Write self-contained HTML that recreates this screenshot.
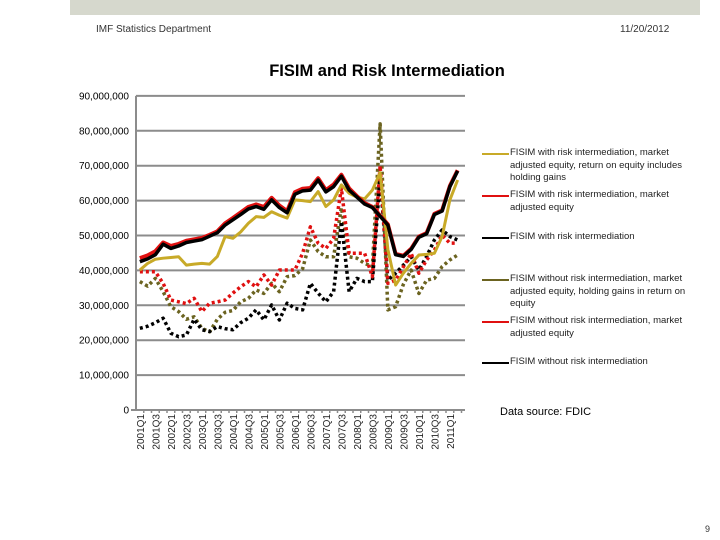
<!DOCTYPE html>
<html><head><meta charset="utf-8"><style>
body{margin:0;width:720px;height:540px;background:#fff;overflow:hidden;position:relative;font-family:"Liberation Sans",sans-serif}
.abs{position:absolute}
.leg{position:absolute;left:510px;font-size:9.5px;line-height:12.5px;color:#222;width:180px}
.lline{position:absolute;left:482px;width:27px;height:2px}
</style></head><body>
<div class="abs" style="left:70px;top:0;width:630px;height:15px;background:#d6d8cd"></div>
<div class="abs" style="left:96px;top:24px;font-size:10px;color:#333">IMF Statistics Department</div>
<div class="abs" style="left:620px;top:24px;font-size:10px;color:#333">11/20/2012</div>
<div class="abs" style="left:0;width:774px;text-align:center;top:62px;font-size:16.5px;font-weight:bold;color:#000">FISIM and Risk Intermediation</div>
<svg class="abs" style="left:0;top:0" width="720" height="540" id="chart"></svg>
<div class="lline" style="top:153px;background:#c8aa28"></div>
<div class="leg" style="top:147px">FISIM with risk intermediation, market adjusted equity, return on equity includes holding gains</div>
<div class="lline" style="top:195px;background:#e01010"></div>
<div class="leg" style="top:189px">FISIM with risk intermediation, market adjusted equity</div>
<div class="lline" style="top:237px;background:#000"></div>
<div class="leg" style="top:231px">FISIM with risk intermediation</div>
<div class="lline" style="top:279px;background:#6b6320"></div>
<div class="leg" style="top:273px">FISIM without risk intermediation, market adjusted equity, holding gains in return on equity</div>
<div class="lline" style="top:321px;background:#e01010"></div>
<div class="leg" style="top:315px">FISIM without risk intermediation, market adjusted equity</div>
<div class="lline" style="top:362px;background:#000"></div>
<div class="leg" style="top:356px">FISIM without risk intermediation</div>
<div class="abs" style="left:500px;top:406px;font-size:11px;color:#000">Data source: FDIC</div>
<div class="abs" style="left:705px;top:524px;font-size:9px;color:#333">9</div>
<script>
const yTicks=[0,10,20,30,40,50,60,70,80,90];
const quarters=[];for(let y=2001;y<=2011;y++)for(let q=1;q<=4;q++)if(quarters.length<42)quarters.push(y+'Q'+q);
const gold=[40.1,42,43.2,43.5,43.7,43.9,41.5,41.8,42,41.8,44,49.7,49.2,51,53.5,55.4,55.2,56.8,55.8,55,60.2,60,59.7,62.6,58.3,60.2,64.5,62.1,61,60.5,63,68,46,35.8,39.2,42,44.4,44.6,44.9,49.7,60.2,65.9];
const black=[42.5,43.3,44.5,47.5,46.3,47,48,48.4,48.8,49.8,50.8,53,54.5,56,57.6,58.3,57.5,60.2,58,56.5,61.8,62.8,63,65.9,62.5,64,67,63,61,59,58,55.5,53,44.5,44,46,49.5,50.5,56,57,64,68.5];
const redSolid=[43.5,44.3,45.5,48,47,47.6,48.5,48.9,49.3,50.2,51.2,53.5,55,56.6,58.2,58.9,58.2,60.8,58.6,57,62.4,63.4,63.6,66.4,63,64.6,67.4,63.5,61.3,59.3,58.2,55.7,53.2,44.7,44.2,46.2,49.7,50.7,56.2,57.2,64.2,68.7];
const oliveDot=[36.8,35.5,37.7,33.9,29.6,28.2,26,26.7,23.4,22.4,26,28,28.5,31,32,34.4,33.4,36.3,33.9,38.2,38.5,40.5,48.7,45.4,43.9,43.9,58,43.9,43.5,42,41.1,82,28.7,29.6,36,40.1,33.4,37.2,37.7,41.1,43,44.4];
const redDot=[39.6,39.6,39.6,36.3,31.5,31,30.5,32,28.2,30.6,31,31.5,33.5,35.3,36.8,35.3,38.7,35.8,40.1,40.1,40.1,44.9,52.5,47.8,46.3,49.2,63.5,44.9,44.9,44.9,38.2,70,36.3,37.2,41,44.9,39.2,43,45.8,50.1,47.8,47.8];
const blackDot=[23.4,24,25,26.3,22,21,21.5,26,23,22.5,23.9,23.3,23,25,26.3,28.7,25.8,30.1,25.8,30.6,29.1,28.7,36.3,33.5,31,33.9,54,33.9,37.7,36.8,36.8,66.9,37.2,39.2,41.5,43.9,40.1,44,48.7,51.6,49.7,48.7];
const svg=document.getElementById('chart');const NS='http://www.w3.org/2000/svg';
const X0=136,XW=7.75,Y0=410,YS=3.49;
const xs=i=>X0+XW*(i+0.5);const ys=v=>Y0-v*YS;
function mk(t,a){const e=document.createElementNS(NS,t);for(const k in a)e.setAttribute(k,a[k]);svg.appendChild(e);return e;}
yTicks.forEach(v=>{
 if(v>0){const g=mk('line',{x1:X0,x2:465,y1:ys(v),y2:ys(v),stroke:'#8c8c8c','stroke-width':2});
 
 }
 const t=mk('text',{x:129,y:ys(v)+3.5,'text-anchor':'end','font-size':10,fill:'#000','font-family':'Liberation Sans'});
 t.textContent=v===0?'0':(v+',000,000');
 
 
});
const ax=mk('line',{x1:X0,x2:X0,y1:ys(90),y2:Y0,stroke:'#8c8c8c','stroke-width':2});


const bx=mk('line',{x1:131,x2:465,y1:Y0,y2:Y0,stroke:'#8c8c8c','stroke-width':2});


quarters.forEach((q,i)=>{
 const tk=mk('line',{x1:X0+XW*(i+1),x2:X0+XW*(i+1),y1:Y0,y2:Y0+3,stroke:'#8c8c8c','stroke-width':1.5});
 
 
 if(i%2===0){const t=mk('text',{x:0,y:0,transform:`translate(${xs(i)+4},${Y0+4}) rotate(-90)`,'text-anchor':'end','font-size':10,fill:'#222','font-family':'Liberation Sans'});
 t.textContent=q;
 
 }
});
function series(d,col,w,dash,name){
 const p=mk('polyline',{points:d.map((v,i)=>xs(i)+','+ys(v)).join(' '),fill:'none',stroke:col,'stroke-width':w,'stroke-dasharray':dash||'none','stroke-linejoin':'round'});
 
 
}
series(oliveDot,'#6b6320',3.5,'3 3','series-olive-dotted');
series(blackDot,'#000',3.5,'3 3','series-black-dotted');
series(redDot,'#e01010',3.5,'3 3','series-red-dotted');
series(gold,'#c8aa28',3,null,'series-gold');
series(redSolid,'#e01010',4,null,'series-red-solid');
series(black,'#000',3.5,null,'series-black');
</script>
</body></html>
